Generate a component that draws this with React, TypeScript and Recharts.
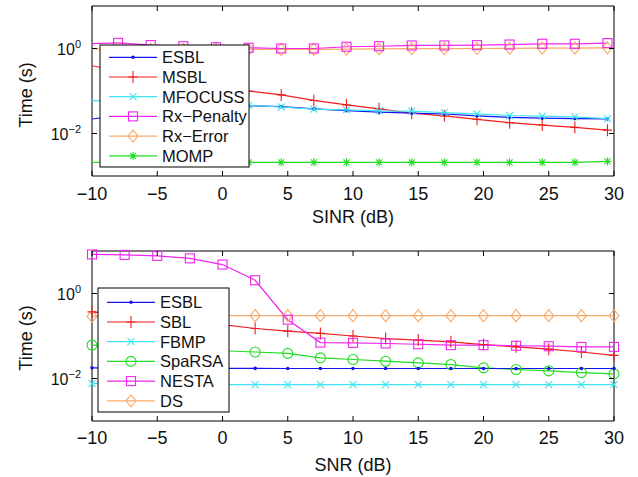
import React from 'react';
import { LineChart, Line, XAxis, YAxis, ReferenceArea } from 'recharts';

// top panel: time vs SINR
const sinr = [-10.5, -8, -5.5, -3, -0.5, 2, 4.5, 7, 9.5, 12, 14.5, 17, 19.5, 22, 24.5, 27, 29.5];
const esblTop = [0.021, 0.026, 0.031, 0.036, 0.041, 0.045, 0.043, 0.038, 0.0345, 0.032, 0.03, 0.0288, 0.026, 0.024, 0.0229, 0.0224, 0.022];
const msbl = [0.42, 0.3, 0.22, 0.17, 0.13, 0.1, 0.081, 0.06, 0.047, 0.038, 0.03, 0.026, 0.0216, 0.018, 0.0158, 0.0139, 0.012];
const mfocuss = [0.06, 0.057, 0.054, 0.051, 0.049, 0.046, 0.042, 0.0375, 0.036, 0.034, 0.0335, 0.031, 0.029, 0.0265, 0.0255, 0.0245, 0.0225];
const rxPenalty = [1.28, 1.36, 1.2, 1.13, 1.07, 1.04, 1.0, 1.0, 1.1, 1.13, 1.18, 1.18, 1.2, 1.24, 1.29, 1.29, 1.34];
const rxError = [0.98, 0.97, 0.97, 0.96, 0.96, 0.96, 0.95, 0.95, 0.97, 0.98, 0.99, 0.99, 1.0, 1.01, 1.02, 1.02, 1.03];
const momp = [0.0021, 0.0021, 0.0021, 0.0021, 0.0021, 0.0021, 0.0021, 0.0021, 0.0021, 0.0021, 0.0021, 0.0021, 0.0021, 0.0021, 0.0021, 0.0021, 0.0022];

// bottom panel: time vs SNR
const snr = [-10, -7.5, -5, -2.5, 0, 2.5, 5, 7.5, 10, 12.5, 15, 17.5, 20, 22.5, 25, 27.5, 30];
const esblBot = [0.0178, 0.0176, 0.0175, 0.0174, 0.0173, 0.0173, 0.0172, 0.0172, 0.0172, 0.0172, 0.0172, 0.0172, 0.0172, 0.0172, 0.0172, 0.0172, 0.0172];
const sbl = [0.37, 0.31, 0.26, 0.22, 0.185, 0.15, 0.13, 0.115, 0.1, 0.087, 0.08, 0.073, 0.063, 0.0555, 0.049, 0.042, 0.035];
const fbmp = [0.0076, 0.0074, 0.0073, 0.0072, 0.0072, 0.0072, 0.0072, 0.0072, 0.0072, 0.0072, 0.0072, 0.0072, 0.0072, 0.0072, 0.0072, 0.0072, 0.0072];
const sparsa = [0.061, 0.057, 0.052, 0.048, 0.045, 0.042, 0.039, 0.0305, 0.028, 0.0255, 0.0233, 0.0213, 0.0178, 0.0163, 0.0151, 0.0138, 0.0128];
const nesta = [8.3, 8.1, 7.7, 6.7, 4.8, 2.05, 0.242, 0.07, 0.069, 0.0667, 0.064, 0.061, 0.061, 0.059, 0.0575, 0.0554, 0.0554];
const ds = [0.29, 0.3, 0.3, 0.3, 0.3, 0.3, 0.3, 0.3, 0.3, 0.3, 0.3, 0.3, 0.3, 0.3, 0.3, 0.3, 0.3];

const xTicks = [-10, -5, 0, 5, 10, 15, 20, 25, 30];
const yTicks = [0.01, 1];

const BLUE = '#1414ee';
const RED = '#ee1e1e';
const CYAN = '#3ee4f0';
const MAGENTA = '#f024f0';
const ORANGE = '#f8aa68';
const GREEN = '#22dd22';
const FONT = '"Liberation Sans", Arial, Helvetica, sans-serif';

type Shape = 'dot' | 'plus' | 'cross' | 'square' | 'diamond' | 'star' | 'circle';

interface Series {
  key: string;
  name: string;
  color: string;
  shape: Shape;
  values: number[];
}

const topSeries: Series[] = [
  { key: 'esbl', name: 'ESBL', color: BLUE, shape: 'dot', values: esblTop },
  { key: 'msbl', name: 'MSBL', color: RED, shape: 'plus', values: msbl },
  { key: 'mfocuss', name: 'MFOCUSS', color: CYAN, shape: 'cross', values: mfocuss },
  { key: 'rxp', name: 'Rx\u2212Penalty', color: MAGENTA, shape: 'square', values: rxPenalty },
  { key: 'rxe', name: 'Rx\u2212Error', color: ORANGE, shape: 'diamond', values: rxError },
  { key: 'momp', name: 'MOMP', color: GREEN, shape: 'star', values: momp },
];

const bottomSeries: Series[] = [
  { key: 'esbl', name: 'ESBL', color: BLUE, shape: 'dot', values: esblBot },
  { key: 'sbl', name: 'SBL', color: RED, shape: 'plus', values: sbl },
  { key: 'fbmp', name: 'FBMP', color: CYAN, shape: 'cross', values: fbmp },
  { key: 'sparsa', name: 'SpaRSA', color: GREEN, shape: 'circle', values: sparsa },
  { key: 'nesta', name: 'NESTA', color: MAGENTA, shape: 'square', values: nesta },
  { key: 'ds', name: 'DS', color: ORANGE, shape: 'diamond', values: ds },
];

// series drawn in this order so magenta/orange sit on top like the original
const drawOrderTop = ['momp', 'msbl', 'esbl', 'mfocuss', 'rxe', 'rxp'];
const drawOrderBottom = ['ds', 'sparsa', 'esbl', 'fbmp', 'sbl', 'nesta'];

const buildRows = (xs: number[], series: Series[]) =>
  xs.map((x, i) => {
    const row: Record<string, number> = { x };
    series.forEach((s) => (row[s.key] = s.values[i]));
    return row;
  });

const Marker = ({ shape, cx, cy, color }: { shape: Shape; cx: number; cy: number; color: string }) => {
  const common = { stroke: color, strokeWidth: 1.1, fill: 'none' };
  switch (shape) {
    case 'dot':
      return <circle cx={cx} cy={cy} r={1.8} fill={color} />;
    case 'plus':
      return <path d={`M${cx - 4.5},${cy}H${cx + 4.5}M${cx},${cy - 6}V${cy + 6}`} {...common} />;
    case 'cross':
      return <path d={`M${cx - 3.5},${cy - 3.5}L${cx + 3.5},${cy + 3.5}M${cx - 3.5},${cy + 3.5}L${cx + 3.5},${cy - 3.5}`} {...common} />;
    case 'square':
      return <rect x={cx - 4.5} y={cy - 4.5} width={9} height={9} {...common} />;
    case 'diamond':
      return <path d={`M${cx},${cy - 6}L${cx + 5},${cy}L${cx},${cy + 6}L${cx - 5},${cy}Z`} {...common} />;
    case 'star':
      return (
        <path
          d={`M${cx - 4},${cy}H${cx + 4}M${cx},${cy - 4}V${cy + 4}M${cx - 3},${cy - 3}L${cx + 3},${cy + 3}M${cx - 3},${cy + 3}L${cx + 3},${cy - 3}`}
          {...common}
        />
      );
    case 'circle':
      return <circle cx={cx} cy={cy} r={5} {...common} />;
  }
  return null;
};

const fmtX = (v: number) => (v < 0 ? `\u2212${Math.abs(v)}` : `${v}`);

const XTick = (props: any) => {
  const { x, payload, top, bottom, labelGap } = props;
  return (
    <g>
      <line x1={x} x2={x} y1={bottom} y2={bottom - 5} stroke="#000" />
      <line x1={x} x2={x} y1={top} y2={top + 5} stroke="#000" />
      <text x={x} y={bottom + labelGap} textAnchor="middle" fontSize={18} fontFamily={FONT} fill="#111">
        {fmtX(payload.value)}
      </text>
    </g>
  );
};

const YTick = (props: any) => {
  const { y, payload, left, right } = props;
  const exp = Math.round(Math.log10(payload.value));
  return (
    <g>
      <line x1={left} x2={left + 5} y1={y} y2={y} stroke="#000" />
      <line x1={right} x2={right - 5} y1={y} y2={y} stroke="#000" />
      <text x={left - 11} y={y + 6.5} textAnchor="end" fontSize={16} fontFamily={FONT} fill="#111">
        10
        <tspan dy={-7} fontSize={11}>
          {exp < 0 ? `\u2212${Math.abs(exp)}` : exp}
        </tspan>
      </text>
    </g>
  );
};

interface LegendProps {
  series: Series[];
  left: number;
  top: number;
  width: number;
  height: number;
  firstRow: number;
  rowGap: number;
}

const LegendBox = ({ series, left, top, width, height, firstRow, rowGap }: LegendProps) => (
  <svg
    width={width + 2}
    height={height + 2}
    style={{ position: 'absolute', left: left - 1, top: top - 1, overflow: 'visible' }}
  >
    <rect x={1} y={1} width={width} height={height} fill="#fff" stroke="#000" strokeWidth={1} />
    {series.map((s, i) => {
      const cy = 1 + firstRow + i * rowGap;
      return (
        <g key={s.key}>
          <line x1={10} x2={58} y1={cy} y2={cy} stroke={s.color} strokeWidth={1.2} />
          <Marker shape={s.shape} cx={34} cy={cy} color={s.color} />
          <text x={63} y={cy + 6} fontSize={16.5} fontFamily={FONT} fill="#111">
            {s.name}
          </text>
        </g>
      );
    })}
  </svg>
);

interface PanelProps {
  xs: number[];
  series: Series[];
  order: string[];
  height: number;
  marginTop: number;
  axisHeight: number;
  labelGap: number;
  xLabel: string;
  xLabelY: number;
  yLabelY: number;
  clipX: boolean;
}

const W = 638;
const PLOT_LEFT = 92;
const PLOT_RIGHT = 614;

const Panel = ({ xs, series, order, height, marginTop, axisHeight, labelGap, xLabel, xLabelY, yLabelY, clipX }: PanelProps) => {
  const rows = buildRows(xs, series);
  const plotBottom = height - axisHeight;
  return (
    <LineChart
      width={W}
      height={height}
      data={rows}
      margin={{ top: marginTop, right: W - PLOT_RIGHT, bottom: 0, left: 0 }}
    >
      <XAxis
        dataKey="x"
        type="number"
        domain={[-10, 30]}
        ticks={xTicks}
        allowDataOverflow={clipX}
        height={axisHeight}
        axisLine={false}
        tickLine={false}
        interval={0}
        tick={(p: any) => <XTick {...p} top={marginTop} bottom={plotBottom} labelGap={labelGap} />}
        label={{
          content: () => (
            <text x={(PLOT_LEFT + PLOT_RIGHT) / 2} y={xLabelY} textAnchor="middle" fontSize={18} fontFamily={FONT} fill="#111">
              {xLabel}
            </text>
          ),
        }}
      />
      <YAxis
        type="number"
        scale="log"
        domain={[0.001, 10]}
        ticks={yTicks}
        allowDataOverflow={clipX}
        width={PLOT_LEFT}
        axisLine={false}
        tickLine={false}
        interval={0}
        tick={(p: any) => <YTick {...p} left={PLOT_LEFT} right={PLOT_RIGHT} />}
        label={{
          content: () => (
            <text
              x={32}
              y={yLabelY}
              transform={`rotate(-90, 32, ${yLabelY})`}
              textAnchor="middle"
              fontSize={18}
              fontFamily={FONT}
              fill="#111"
            >
              Time (s)
            </text>
          ),
        }}
      />
      <ReferenceArea x1={-10} x2={30} y1={0.001} y2={10} fill="none" stroke="#000" strokeWidth={1} fillOpacity={0} />
      {order.map((k) => {
        const s = series.find((d) => d.key === k)!;
        return (
          <Line
            key={s.key}
            dataKey={s.key}
            stroke={s.color}
            strokeWidth={1.2}
            isAnimationActive={false}
            dot={(p: any) => <Marker key={`${s.key}-${p.index}`} shape={s.shape} cx={p.cx} cy={p.cy} color={s.color} />}
            activeDot={false}
          />
        );
      })}
    </LineChart>
  );
};

export default function App() {
  return (
    <div style={{ position: 'absolute', left: 0, top: 0, width: W, height: 477, background: '#fff', fontFamily: FONT }}>
      <div style={{ position: 'absolute', left: 0, top: 0 }}>
        <Panel
          xs={sinr}
          series={topSeries}
          order={drawOrderTop}
          height={238}
          marginTop={6}
          axisHeight={62}
          labelGap={24}
          xLabel="SINR (dB)"
          xLabelY={223}
          yLabelY={95}
          clipX
        />
      </div>
      <div style={{ position: 'absolute', left: 0, top: 238 }}>
        <Panel
          xs={snr}
          series={bottomSeries}
          order={drawOrderBottom}
          height={239}
          marginTop={13}
          axisHeight={56}
          labelGap={23}
          xLabel="SNR (dB)"
          xLabelY={233}
          yLabelY={100}
          clipX={false}
        />
      </div>
      <LegendBox series={topSeries} left={100} top={45} width={149} height={122} firstRow={12.3} rowGap={19.7} />
      <LegendBox series={bottomSeries} left={98} top={288} width={131} height={124} firstRow={14.3} rowGap={19.7} />
    </div>
  );
}
